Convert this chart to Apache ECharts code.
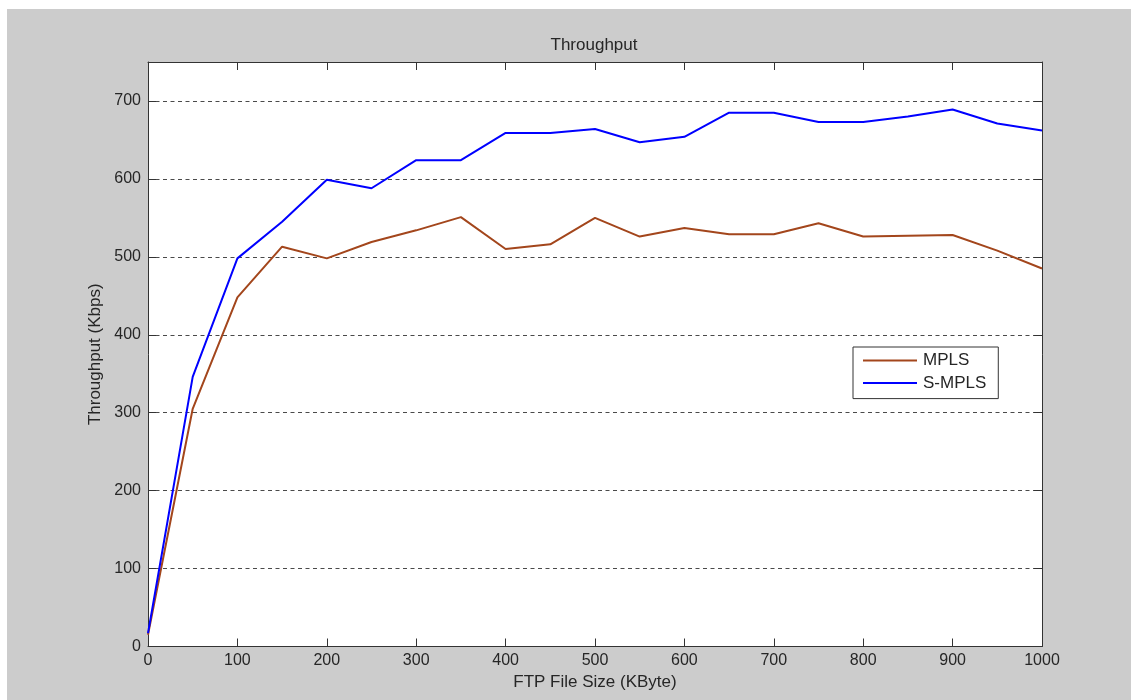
<!DOCTYPE html>
<html>
<head>
<meta charset="utf-8">
<title>Throughput</title>
<script src="https://cdn.jsdelivr.net/npm/echarts@6/dist/echarts.min.js"></script>
<style>
  html, body { margin: 0; padding: 0; background: #ffffff; }
  #chart { width: 1131px; height: 700px; }
</style>
</head>
<body>
<div id="chart"></div>
<script>
// FTP file sizes (KByte)
const fileSizes = [0, 50, 100, 150, 200, 250, 300, 350, 400, 450, 500,
                   550, 600, 650, 700, 750, 800, 850, 900, 950, 1000];
// Throughput (Kbps) per file size
const mplsThroughput  = [15, 305, 448, 513, 498, 519, 534, 551, 510, 516, 550,
                         526, 537, 529, 529, 543, 526, 527, 528, 508, 485];
const smplsThroughput = [17, 346, 498, 545, 599, 588, 624, 624, 659, 659, 664,
                         647, 654, 685, 685, 673, 673, 680, 689, 671, 662];
const seriesNames = ['MPLS', 'S-MPLS'];
const chartTitle = 'Throughput';
const xAxisTitle = 'FTP File Size (KByte)';
const yAxisTitle = 'Throughput (Kbps)';

const FONT = '"Liberation Sans", Arial, Helvetica, sans-serif';
const TEXT_COLOR = '#262626';
const FRAME_COLOR = '#333333';

const chart = echarts.init(document.getElementById('chart'), null, { renderer: 'canvas' });

function pairs(xs, ys) { return xs.map((x, i) => [x, ys[i]]); }

const tickCommon = { show: true, inside: true, length: 8, lineStyle: { color: FRAME_COLOR, width: 1 } };
const lineCommon = { show: true, onZero: false, lineStyle: { color: FRAME_COLOR, width: 1 } };

chart.setOption({
  animation: false,
  backgroundColor: '#ffffff',
  graphic: [{
    type: 'rect', z: -10, silent: true,
    shape: { x: 7, y: 9, width: 1124, height: 691 },
    style: { fill: '#cccccc' }
  }],
  title: {
    text: chartTitle,
    left: 594, top: 37, textAlign: 'center', padding: 0,
    textStyle: { fontFamily: FONT, fontSize: 17, fontWeight: 'normal', color: TEXT_COLOR }
  },
  grid: {
    left: 148, top: 62, right: 89, bottom: 53.5,
    show: true, backgroundColor: '#ffffff', borderWidth: 0
  },
  legend: {
    orient: 'vertical',
    left: 853, top: 347,
    data: seriesNames,
    icon: 'rect',
    backgroundColor: '#ffffff',
    borderColor: FRAME_COLOR, borderWidth: 1, borderRadius: 0,
    padding: [5, 12, 7, 10],
    itemWidth: 54, itemHeight: 2, itemGap: 5.6,
    textStyle: { fontFamily: FONT, fontSize: 17, color: TEXT_COLOR, padding: [0, 0, 0, 1] }
  },
  xAxis: [{
    type: 'value', position: 'bottom',
    min: 0, max: 1000, interval: 100,
    name: xAxisTitle, nameLocation: 'middle', nameGap: 27,
    nameTextStyle: { fontFamily: FONT, fontSize: 17, color: TEXT_COLOR },
    axisLine: lineCommon, axisTick: tickCommon,
    axisLabel: { margin: 6, fontFamily: FONT, fontSize: 16, color: TEXT_COLOR,
                 formatter: v => String(v) },
    splitLine: { show: false }
  }, {
    type: 'value', position: 'top',
    min: 0, max: 1000, interval: 100,
    axisLine: lineCommon, axisTick: tickCommon,
    axisLabel: { show: false }, splitLine: { show: false }
  }],
  yAxis: [{
    type: 'value', position: 'left',
    min: 0, max: 750, interval: 100,
    name: yAxisTitle, nameLocation: 'middle', nameGap: 44,
    nameTextStyle: { fontFamily: FONT, fontSize: 17, color: TEXT_COLOR },
    axisLine: lineCommon, axisTick: tickCommon,
    axisLabel: {
      margin: 7, fontFamily: FONT, fontSize: 16, color: TEXT_COLOR,
      formatter: v => (v % 100 === 0 ? String(v) : '')
    },
    splitLine: { show: true, lineStyle: { color: '#4a4a4a', width: 1, type: [4, 3.5] } }
  }, {
    type: 'value', position: 'right',
    min: 0, max: 750, interval: 100,
    axisLine: lineCommon, axisTick: tickCommon,
    axisLabel: { show: false }, splitLine: { show: false }
  }],
  series: [{
    name: seriesNames[0], type: 'line',
    xAxisIndex: 0, yAxisIndex: 0,
    data: pairs(fileSizes, mplsThroughput),
    symbol: 'none',
    lineStyle: { color: '#a3461c', width: 2 },
    itemStyle: { color: '#a3461c' },
    z: 3
  }, {
    name: seriesNames[1], type: 'line',
    xAxisIndex: 0, yAxisIndex: 0,
    data: pairs(fileSizes, smplsThroughput),
    symbol: 'none',
    lineStyle: { color: '#0000ff', width: 2 },
    itemStyle: { color: '#0000ff' },
    z: 4
  }]
});
</script>
</body>
</html>
